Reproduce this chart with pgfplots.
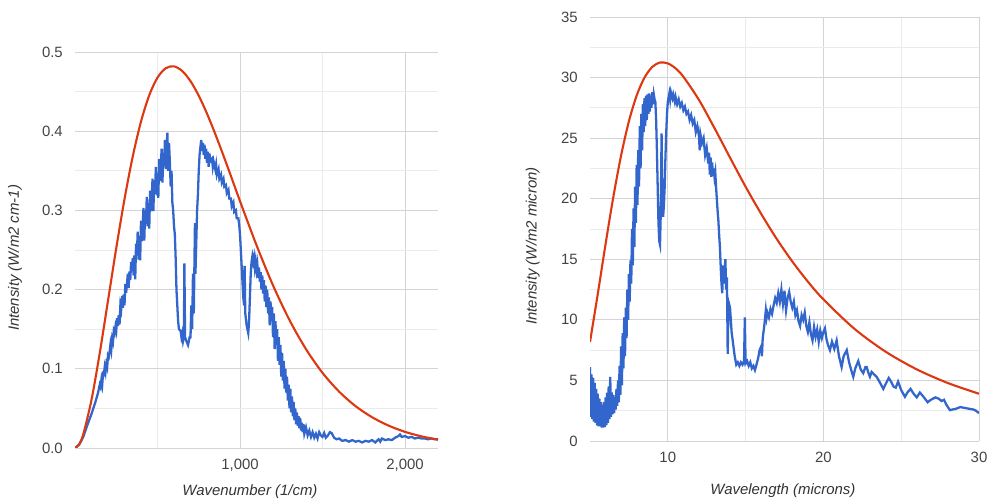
\documentclass[border=0pt]{standalone}
\usepackage{fontspec}
\setmainfont{Liberation Sans}
\usepackage{pgfplots}
\pgfplotsset{compat=1.18}
\definecolor{gblue}{HTML}{3366CC}
\definecolor{gred}{HTML}{DC3912}
\definecolor{tickgray}{HTML}{444444}
\definecolor{labgray}{HTML}{333333}
\definecolor{majgrid}{HTML}{D4D4D4}
\definecolor{mingrid}{HTML}{EBEBEB}
\definecolor{basegray}{HTML}{999999}
\pgfplotsset{gstyle/.style={
  scale only axis,
  axis line style={draw=none},
  major tick length=0pt, minor tick length=0pt,
  grid=both,
  major grid style={draw=majgrid, line width=0.5pt},
  minor grid style={draw=mingrid, line width=0.5pt},
  tick label style={font=\fontsize{8.5}{10}\selectfont, text=tickgray},
  /pgf/number format/assume math mode=true,
  label style={font=\fontsize{8.5}{10}\selectfont\itshape, text=labgray},
  extra y ticks={0},
  extra y tick labels={},
  extra y tick style={grid style={draw=basegray, line width=1.2pt}},
  xticklabel style={yshift=-0.1cm},
  yticklabel style={xshift=-0.12cm},
  clip=true,
}}
\begin{document}
\begin{tikzpicture}[x=1cm,y=1cm]
\useasboundingbox (0,0) rectangle (19.74,10);
% ---------------- left panel ----------------
\begin{axis}[gstyle,
  at={(1.5cm,1.04cm)}, anchor=south west,
  width=7.26cm, height=7.92cm,
  xmin=0, xmax=2200, ymin=0, ymax=0.5,
  xtick={1000,2000}, xticklabels={1{,}000,2{,}000},
  minor xtick={500,1500},
  ytick={0,0.1,0.2,0.3,0.4,0.5},
  minor ytick={0.05,0.15,0.25,0.35,0.45},
  yticklabel style={/pgf/number format/.cd, fixed, fixed zerofill, precision=1},
  xlabel={Wavenumber (1/cm)},
  ylabel={Intensity (W/m2 cm-1)},
  xlabel style={at={(axis description cs:0.482,-0.109)}, anchor=center},
  ylabel style={at={(axis description cs:-0.165,0.48)}, anchor=center},
]
\addplot[gblue, line width=1.3pt] coordinates {
(0,0) (25,0.004) (50,0.014) (75,0.029) (100,0.043) (125,0.059) (140,0.070)
(150,0.080) (155,0.077) (160,0.086) (165,0.080) (170,0.094) (175,0.093) (180,0.102)
(185,0.096) (190,0.106) (195,0.102) (200,0.117) (205,0.115) (210,0.122) (215,0.131)
(220,0.124) (225,0.138) (230,0.134) (235,0.148) (240,0.145) (245,0.153) (250,0.148)
(255,0.164) (260,0.154) (265,0.168) (270,0.156) (275,0.180) (280,0.175) (285,0.192)
(290,0.177) (295,0.194) (300,0.180) (305,0.207) (310,0.196) (315,0.207) (320,0.220)
(325,0.202) (330,0.223) (335,0.212) (340,0.235) (345,0.224) (350,0.240) (355,0.218)
(360,0.243) (365,0.213) (370,0.258) (375,0.243) (380,0.273) (385,0.238) (390,0.268)
(395,0.237) (400,0.287) (405,0.261) (410,0.280) (415,0.303) (420,0.262) (425,0.300)
(430,0.283) (435,0.317) (440,0.280) (445,0.309) (450,0.277) (455,0.325) (460,0.299)
(465,0.317) (470,0.340) (475,0.299) (480,0.338) (485,0.321) (490,0.355) (495,0.319)
(500,0.347) (505,0.316) (510,0.365) (515,0.337) (520,0.355) (525,0.378) (530,0.335)
(535,0.373) (540,0.356) (545,0.389) (550,0.352) (555,0.380) (560,0.398) (565,0.350)
(570,0.385) (575,0.360) (580,0.330) (585,0.350) (590,0.310) (595,0.300) (600,0.280)
(605,0.270) (610,0.240) (615,0.200) (620,0.180) (625,0.160) (630,0.150) (640,0.148)
(645,0.140) (650,0.145) (655,0.135) (660,0.140) (663,0.233) (667,0.140) (675,0.135)
(685,0.130) (690,0.135) (695,0.140) (700,0.140) (705,0.180) (710,0.150) (715,0.220)
(720,0.170) (727,0.284) (730,0.220) (735,0.260) (740,0.300) (745,0.320) (750,0.350)
(755,0.370) (760,0.380) (765,0.389) (770,0.375) (775,0.385) (780,0.370) (785,0.383)
(790,0.365) (795,0.378) (800,0.360) (805,0.374) (810,0.355) (815,0.372) (820,0.362)
(830,0.365) (835,0.355) (840,0.362) (850,0.352) (855,0.358) (860,0.345) (870,0.352)
(875,0.340) (885,0.345) (890,0.335) (900,0.340) (905,0.330) (915,0.332) (920,0.322)
(930,0.326) (935,0.315) (945,0.315) (950,0.305) (960,0.310) (965,0.298) (975,0.300)
(980,0.290) (990,0.290) (995,0.282) (1000,0.270) (1005,0.250) (1010,0.230) (1015,0.210)
(1020,0.190) (1025,0.180) (1028,0.230) (1032,0.170) (1040,0.155) (1045,0.150) (1050,0.145)
(1055,0.160) (1060,0.190) (1065,0.220) (1070,0.235) (1075,0.242) (1080,0.235) (1085,0.241)
(1090,0.228) (1095,0.236) (1100,0.225) (1105,0.232) (1110,0.215) (1115,0.228) (1120,0.210)
(1125,0.222) (1130,0.200) (1135,0.218) (1140,0.195) (1145,0.212) (1150,0.185) (1155,0.205)
(1160,0.178) (1165,0.200) (1170,0.170) (1175,0.190) (1180,0.155) (1185,0.185) (1190,0.160)
(1195,0.178) (1200,0.140) (1205,0.170) (1210,0.125) (1215,0.160) (1220,0.130) (1225,0.150)
(1230,0.110) (1235,0.140) (1240,0.105) (1245,0.130) (1250,0.090) (1255,0.120) (1260,0.085)
(1265,0.110) (1270,0.075) (1275,0.100) (1280,0.070) (1285,0.090) (1290,0.060) (1295,0.080)
(1300,0.050) (1305,0.075) (1310,0.045) (1315,0.065) (1320,0.040) (1325,0.058) (1330,0.035)
(1335,0.050) (1340,0.030) (1345,0.045) (1350,0.028) (1355,0.040) (1360,0.025) (1365,0.038)
(1370,0.022) (1375,0.032) (1380,0.020) (1385,0.030) (1390,0.018) (1400,0.026) (1410,0.016)
(1420,0.022) (1430,0.014) (1440,0.020) (1450,0.013) (1460,0.018) (1470,0.012) (1480,0.020)
(1490,0.016) (1500,0.014) (1510,0.019) (1520,0.013) (1530,0.015) (1545,0.020) (1555,0.019)
(1570,0.013) (1585,0.011) (1600,0.012) (1620,0.009) (1640,0.010) (1660,0.008) (1680,0.010)
(1700,0.008) (1720,0.009) (1740,0.007) (1760,0.009) (1780,0.008) (1800,0.010) (1820,0.007)
(1840,0.011) (1850,0.008) (1860,0.012) (1880,0.010) (1900,0.011) (1920,0.010) (1940,0.013)
(1960,0.015) (1970,0.017) (1980,0.014) (2000,0.015) (2020,0.013) (2040,0.014) (2060,0.012)
(2080,0.013) (2100,0.012) (2120,0.012) (2140,0.011) (2160,0.012) (2180,0.011) (2200,0.011)
};
\addplot[gred, line width=1.2pt, smooth] coordinates {
(0,0) (25,0.00459) (50,0.01726) (100,0.0608) (150,0.1199) (200,0.1860) (250,0.2523)
(300,0.3142) (350,0.3681) (400,0.4122) (450,0.4454) (500,0.4677) (550,0.4795)
(600,0.4819) (650,0.4760) (700,0.4632) (750,0.4448) (800,0.4222) (850,0.3965)
(900,0.3690) (950,0.3405) (1000,0.3117) (1100,0.2561) (1200,0.2054) (1300,0.1615)
(1400,0.1248) (1500,0.0949) (1600,0.0713) (1700,0.0529) (1800,0.0389) (1900,0.0283)
(2000,0.0204) (2100,0.01466) (2200,0.01043)
};
\end{axis}
% ---------------- right panel ----------------
\begin{axis}[gstyle,
  at={(11.8cm,1.18cm)}, anchor=south west,
  width=7.78cm, height=8.48cm,
  xmin=5, xmax=30, ymin=0, ymax=35,
  xtick={10,20,30},
  minor xtick={15,25},
  ytick={0,5,10,15,20,25,30,35},
  minor ytick={2.5,7.5,12.5,17.5,22.5,27.5,32.5},
  xlabel={Wavelength (microns)},
  ylabel={Intensity (W/m2 micron)},
  xlabel style={at={(axis description cs:0.496,-0.116)}, anchor=center},
  ylabel style={at={(axis description cs:-0.147,0.46)}, anchor=center},
]
\addplot[gblue, line width=1.3pt] coordinates {
(5.00,6.1) (5.05,2.0) (5.1,5.5) (5.15,1.8) (5.2,5.2) (5.25,1.6) (5.3,4.8) (5.35,1.5)
(5.4,4.3) (5.45,1.3) (5.5,3.9) (5.55,1.2) (5.6,3.5) (5.65,1.2) (5.7,3.2) (5.75,1.1)
(5.8,3.0) (5.85,1.1) (5.9,3.2) (5.95,1.15) (6.0,3.6) (6.05,1.3) (6.1,4.0) (6.15,1.5)
(6.2,4.5) (6.25,1.8) (6.3,5.3) (6.35,2.0) (6.4,4.0) (6.45,2.2) (6.5,3.8) (6.55,2.3)
(6.6,3.6) (6.65,2.6) (6.7,4.3) (6.75,2.9) (6.8,5.0) (6.85,3.2) (6.9,6.2) (6.95,3.8)
(7.0,7.8) (7.05,4.6) (7.1,8.9) (7.15,6.0) (7.2,10.2) (7.25,7.0) (7.3,11.0) (7.35,8.5)
(7.4,12.5) (7.45,10.0) (7.5,13.8) (7.55,11.5) (7.6,14.9) (7.65,13.0) (7.7,17.5) (7.75,14.5)
(7.8,19.2) (7.85,16.0) (7.9,21.0) (7.95,18.0) (8.0,22.8) (8.05,19.5) (8.1,24.0) (8.15,21.0)
(8.2,26.0) (8.25,22.5) (8.3,27.0) (8.35,24.0) (8.4,27.8) (8.45,25.5) (8.5,28.3) (8.55,26.0)
(8.6,28.5) (8.65,26.5) (8.7,28.6) (8.75,27.0) (8.8,28.7) (8.85,27.2) (8.9,28.5) (8.95,27.5)
(9.0,28.8) (9.05,27.8) (9.1,28.6) (9.15,28.2) (9.2,28.0) (9.25,26.5) (9.3,24.0) (9.35,21.0)
(9.4,18.0) (9.45,16.5) (9.5,16.2) (9.55,19.0) (9.6,25.4) (9.65,20.0) (9.7,18.5) (9.75,19.5)
(9.8,21.0) (9.85,23.5) (9.9,25.5) (9.95,27.0) (10.0,28.0) (10.1,28.7) (10.15,28.2) (10.2,28.8)
(10.3,28.3) (10.35,28.6) (10.45,28.0) (10.5,28.4) (10.6,27.8) (10.7,28.2) (10.8,27.6) (10.9,27.9)
(11.0,27.3) (11.1,27.6) (11.2,27.0) (11.3,27.2) (11.4,26.5) (11.5,26.9) (11.6,26.2) (11.7,26.5)
(11.8,25.5) (11.9,26.0) (12.0,25.2) (12.05,24.0) (12.1,25.3) (12.2,24.6) (12.3,25.0) (12.4,23.6)
(12.5,24.2) (12.6,22.9) (12.65,23.8) (12.7,22.0) (12.75,23.4) (12.8,21.8) (12.85,23.0) (12.9,21.9)
(12.95,22.5) (13.0,21.8) (13.05,22.2) (13.1,21.0) (13.15,20.0) (13.2,19.0) (13.25,18.2) (13.3,17.0)
(13.35,16.0) (13.4,14.4) (13.45,13.0) (13.5,12.2) (13.55,14.5) (13.6,13.0) (13.7,15.0) (13.75,12.5)
(13.8,13.5) (13.85,7.2) (13.9,11.5) (14.0,11.0) (14.1,9.0) (14.2,8.0) (14.3,7.0) (14.4,6.3)
(14.5,6.5) (14.6,6.2) (14.7,6.5) (14.8,6.3) (14.9,6.6) (14.95,10.2) (15.0,6.4) (15.1,6.6)
(15.2,6.2) (15.3,6.5) (15.4,6.0) (15.5,6.2) (15.6,5.85) (15.7,6.3) (15.8,6.8) (15.9,7.5)
(16.0,7.8) (16.05,7.0) (16.1,8.5) (16.2,9.5) (16.3,10.8) (16.35,10.2) (16.4,10.6) (16.5,10.2)
(16.6,10.9) (16.7,10.5) (16.8,11.2) (16.9,11.8) (17.0,11.4) (17.1,12.2) (17.2,11.5) (17.3,12.5)
(17.4,11.3) (17.5,12.4) (17.6,10.8) (17.7,11.8) (17.8,12.3) (17.9,11.5) (18.0,11.0) (18.1,11.5)
(18.2,10.4) (18.3,10.8) (18.4,9.9) (18.5,9.5) (18.6,10.4) (18.7,10.0) (18.8,10.6) (18.9,9.5)
(19.0,9.0) (19.1,9.8) (19.2,8.8) (19.3,8.3) (19.4,9.4) (19.5,8.6) (19.6,9.2) (19.7,8.2)
(19.8,9.1) (19.9,8.5) (20.0,9.0) (20.1,9.3) (20.2,8.4) (20.3,7.9) (20.42,7.5) (20.55,8.2)
(20.7,7.6) (20.85,8.3) (21.0,7.0) (21.17,6.1) (21.3,7.0) (21.5,7.5) (21.65,6.5) (21.8,5.8)
(21.92,5.3) (22.05,6.0) (22.24,6.6) (22.4,5.9) (22.56,5.6) (22.7,6.1) (22.78,6.1) (22.9,5.6)
(22.99,5.3) (23.1,5.7) (23.25,5.5) (23.42,5.3) (23.6,4.9) (23.85,4.3) (24.0,4.7) (24.2,5.2)
(24.35,4.9) (24.5,4.5) (24.65,4.4) (24.8,4.9) (25.0,4.2) (25.24,3.65) (25.4,4.0) (25.6,4.3)
(25.8,3.9) (26.0,3.6) (26.2,4.0) (26.4,3.7) (26.7,3.2) (26.9,3.4) (27.2,3.6) (27.4,3.5)
(27.6,3.3) (27.75,3.4) (27.9,3.0) (28.13,2.55) (28.3,2.6) (28.5,2.65) (28.8,2.8) (29.0,2.75)
(29.2,2.7) (29.4,2.65) (29.65,2.6) (29.8,2.5) (30.0,2.3)
};
\addplot[gred, line width=1.2pt, smooth] coordinates {
(5,8.18) (5.5,12.14) (6,16.25) (6.5,20.15) (7,23.58) (7.5,26.39) (8,28.52) (8.5,29.99)
(9,30.88) (9.5,31.24) (10,31.17) (10.5,30.76) (11,30.07) (12,28.16) (13,25.83) (14,23.39)
(15,20.99) (16,18.75) (17,16.68) (18,14.82) (19,13.16) (20,11.69) (22,9.254) (24,7.370)
(26,5.913) (28,4.784) (30,3.90)
};
\end{axis}
\end{tikzpicture}
\end{document}
